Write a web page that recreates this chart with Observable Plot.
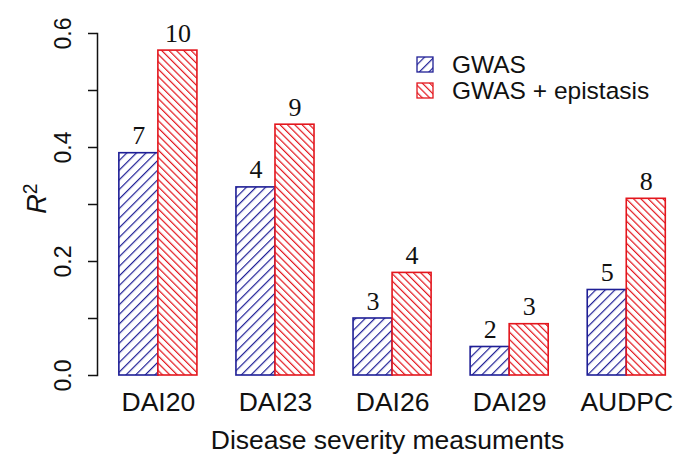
<!DOCTYPE html>
<html>
<head>
<meta charset="utf-8">
<script src="https://cdn.jsdelivr.net/npm/d3@7"></script>
<script src="https://cdn.jsdelivr.net/npm/@observablehq/plot@0.6"></script>
<style>
  html, body { margin: 0; padding: 0; background: #fff; }
  #chart svg { display: block; }
</style>
</head>
<body>
<div id="chart"></div>
<script>
// ---- data ----
const categories = ["DAI20", "DAI23", "DAI26", "DAI29", "AUDPC"];
const seriesNames = ["GWAS", "GWAS + epistasis"];
const gwasValues = [0.39, 0.33, 0.10, 0.05, 0.15];
const epistasisValues = [0.57, 0.44, 0.18, 0.09, 0.31];
const gwasCounts = [7, 4, 3, 2, 5];
const epistasisCounts = [10, 9, 4, 3, 8];
const yTickValues = [0, 0.1, 0.2, 0.3, 0.4, 0.5, 0.6];
const yLabelValues = [0, 0.2, 0.4, 0.6];
const xTitle = "Disease severity measuments";

const blue = "#1f1f96";
const red = "#e3161d";

// R barplot-style layout: each group = space(1) + two bars of width 1
const rows = categories.map((c, i) => ({
  category: c,
  i,
  gwas: gwasValues[i],
  epi: epistasisValues[i],
  gwasN: gwasCounts[i],
  epiN: epistasisCounts[i]
}));

const sans = "'Liberation Sans', Arial, Helvetica, sans-serif";
const serif = "'Liberation Serif', 'Times New Roman', serif";

const plot = Plot.plot({
  width: 677,
  height: 455,
  marginLeft: 97,
  marginRight: 0,
  marginTop: 33,
  marginBottom: 80,
  style: { fontFamily: sans, background: "#fff", color: "#111" },
  x: { type: "linear", domain: [0.44, 15.3], axis: null },
  y: { domain: [0, 0.6], axis: null },
  marks: [
    // bars
    Plot.rectY(rows, {
      x1: d => 3 * d.i + 1, x2: d => 3 * d.i + 2, y1: 0, y2: "gwas",
      fill: "url(#hatch-blue)", stroke: blue, strokeWidth: 1.6
    }),
    Plot.rectY(rows, {
      x1: d => 3 * d.i + 2, x2: d => 3 * d.i + 3, y1: 0, y2: "epi",
      fill: "url(#hatch-red)", stroke: red, strokeWidth: 1.6
    }),
    // counts above bars
    Plot.text(rows, {
      x: d => 3 * d.i + 1.5, y: "gwas", text: d => String(d.gwasN),
      lineAnchor: "bottom", dy: -9, fontSize: 26, fontFamily: serif, fill: "#111"
    }),
    Plot.text(rows, {
      x: d => 3 * d.i + 2.5, y: "epi", text: d => String(d.epiN),
      lineAnchor: "bottom", dy: -9, fontSize: 26, fontFamily: serif, fill: "#111"
    }),
    // y axis line + ticks
    Plot.frame({ anchor: "left", stroke: "#111", strokeWidth: 1.5 }),
    Plot.axisY({ ticks: yTickValues, tickSize: 9, tickFormat: () => "", strokeWidth: 1.5, stroke: "#111" }),
    // y tick labels (rotated, R-style)
    Plot.text(yLabelValues, {
      y: d => d, text: d => d.toFixed(1), frameAnchor: "left", dx: -34,
      rotate: -90, textAnchor: "middle", lineAnchor: "middle", fontSize: 23, fill: "#111"
    }),
    // x tick labels
    Plot.axisX({
      ticks: categories.map((c, i) => 3 * i + 2),
      tickFormat: v => categories[Math.round((v - 2) / 3)],
      tickSize: 0, tickPadding: 17, fontSize: 26.5, label: null, fill: "#111"
    }),
    // x title
    Plot.text([xTitle], {
      text: d => d, frameAnchor: "bottom", dy: 73, lineAnchor: "bottom", fontSize: 26.5, fill: "#111"
    }),
    // y title
    Plot.text(["R2"], {
      text: d => d, frameAnchor: "left", dx: -60, dy: -6, rotate: -90,
      textAnchor: "middle", lineAnchor: "middle", fontSize: 27, fill: "#111"
    })
  ]
});

const svg = d3.select(plot);
const defs = svg.insert("defs", ":first-child");
function hatch(id, color, size, angle) {
  const p = defs.append("pattern")
    .attr("id", id)
    .attr("patternUnits", "userSpaceOnUse")
    .attr("width", size).attr("height", size)
    .attr("patternTransform", `rotate(${angle})`);
  p.append("rect").attr("width", size).attr("height", size).attr("fill", "#fff");
  p.append("line").attr("x1", 0).attr("y1", 0).attr("x2", 0).attr("y2", size)
    .attr("stroke", color).attr("stroke-width", 2.4);
}
hatch("hatch-blue", blue, 6.8, 45);
hatch("hatch-red", red, 5.2, -45);

// R^2 label with italic R and superscript 2
svg.selectAll("text").filter(function () { return this.textContent === "R2"; })
  .each(function () {
    const t = d3.select(this);
    t.text(null);
    t.append("tspan").attr("font-style", "italic").text("R");
    t.append("tspan").attr("dy", "-0.45em").attr("font-size", "0.72em").text("2");
  });

// legend
const legend = svg.append("g")
  .attr("font-family", sans).attr("font-size", 24.5).attr("fill", "#111")
  .attr("text-anchor", "start");
seriesNames.forEach((name, k) => {
  const y0 = 57 + k * 26;
  legend.append("rect")
    .attr("x", 417).attr("y", y0).attr("width", 16).attr("height", 15)
    .attr("fill", k === 0 ? "url(#hatch-blue)" : "url(#hatch-red)")
    .attr("stroke", k === 0 ? blue : red).attr("stroke-width", 1.3);
  legend.append("text").attr("x", 452).attr("y", y0 + 16)
    .attr("text-anchor", "start").text(name);
});

document.getElementById("chart").appendChild(plot);
</script>
</body>
</html>
